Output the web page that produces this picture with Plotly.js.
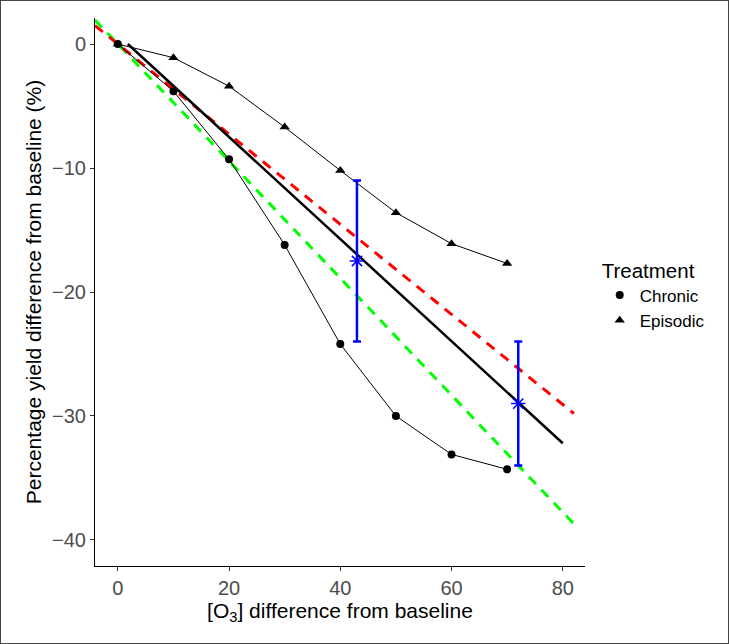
<!DOCTYPE html>
<html>
<head>
<meta charset="utf-8">
<script src="https://cdn.plot.ly/plotly-3.0.1.min.js"></script>
<style>
html,body{margin:0;padding:0;background:#fff;}
#wrap{width:729px;height:644px;box-sizing:border-box;border:1px solid #444;}
#chart{width:727px;height:642px;}
</style>
</head>
<body>
<div id="wrap"><div id="chart"></div></div>
<script>
const o3Levels = [0, 10, 20, 30, 40, 50, 60, 70];
const chronicYield = [0, -3.8, -9.3, -16.2, -24.2, -30.0, -33.1, -34.3];
const episodicYield = [0, -1.1, -3.4, -6.7, -10.2, -13.6, -16.1, -17.7];

const fitX = [1.8, 80];
const fitY = [0, -32.2];

const redX = [-4.1, 82];
const redY = [1.49, -29.8];

const greenX = [-4.1, 82.2];
const greenY = [1.94, -38.8];

const obsX = [43, 72];
const obsY = [-17.5, -29.0];
const obsHigh = [-11.0, -24.0];
const obsLow = [-24.0, -34.0];

const xTicks = [0, 20, 40, 60, 80];
const yTicks = [0, -10, -20, -30, -40];

const errPlus = obsHigh.map((h, i) => h - obsY[i]);
const errMinus = obsLow.map((l, i) => obsY[i] - l);

const traces = [
  {x: greenX, y: greenY, mode: 'lines', line: {color: '#00FF00', width: 3, dash: '10px,8px'}, showlegend: false, hoverinfo: 'skip'},
  {x: redX, y: redY, mode: 'lines', line: {color: '#FF0000', width: 3, dash: '10px,8px'}, showlegend: false, hoverinfo: 'skip'},
  {x: fitX, y: fitY, mode: 'lines', line: {color: '#000000', width: 2.5}, showlegend: false},
  {x: o3Levels, y: chronicYield, mode: 'lines+markers', line: {color: '#000', width: 1}, marker: {symbol: 'circle', size: 8, color: '#000'}, showlegend: false},
  {x: o3Levels, y: episodicYield, mode: 'lines+markers', line: {color: '#000', width: 1}, marker: {symbol: 'triangle-up', size: 9, color: '#000'}, showlegend: false},
  {x: obsX, y: obsY, mode: 'markers', marker: {symbol: 'asterisk-open', size: 12, color: '#0000FF', line: {color: '#0000FF', width: 1.5}},
   error_y: {type: 'data', symmetric: false, array: errPlus, arrayminus: errMinus, color: '#0000FF', thickness: 2.5, width: 4}, showlegend: false},
  {x: [null], y: [null], mode: 'markers', name: 'Chronic', marker: {symbol: 'circle', size: 8, color: '#000'}},
  {x: [null], y: [null], mode: 'markers', name: 'Episodic', marker: {symbol: 'triangle-up', size: 9, color: '#000'}}
];

const layout = {
  width: 727, height: 642,
  margin: {l: 94, r: 143, t: 17, b: 77},
  paper_bgcolor: '#fff', plot_bgcolor: '#fff',
  font: {family: 'Liberation Sans, Arial, sans-serif', color: '#000'},
  xaxis: {
    range: [-4.1, 84], tickvals: xTicks,
    showgrid: false, zeroline: false, showline: true, linecolor: '#000', linewidth: 1,
    ticks: 'outside', ticklen: 4, tickcolor: '#333', tickwidth: 1,
    tickfont: {size: 20, color: '#4D4D4D'},
    title: {text: '[O<sub>3</sub>] difference from baseline', font: {size: 21, color: '#000'}, standoff: 4}
  },
  yaxis: {
    range: [-42.1, 2.1], tickvals: yTicks,
    showgrid: false, zeroline: false, showline: true, linecolor: '#000', linewidth: 1,
    ticks: 'outside', ticklen: 4, tickcolor: '#333', tickwidth: 1,
    tickfont: {size: 20, color: '#4D4D4D'},
    title: {text: 'Percentage yield difference from baseline (%)', font: {size: 21, color: '#000'}, standoff: 4}
  },
  legend: {
    x: 1.03, xanchor: 'left', y: 0.575, yanchor: 'top',
    title: {text: 'Treatment', font: {size: 20.5, color: '#000'}},
    font: {size: 17, color: '#000'},
    tracegroupgap: 0, itemwidth: 30
  },
  showlegend: true
};

Plotly.newPlot('chart', traces, layout, {displayModeBar: false, staticPlot: true});
</script>
</body>
</html>
